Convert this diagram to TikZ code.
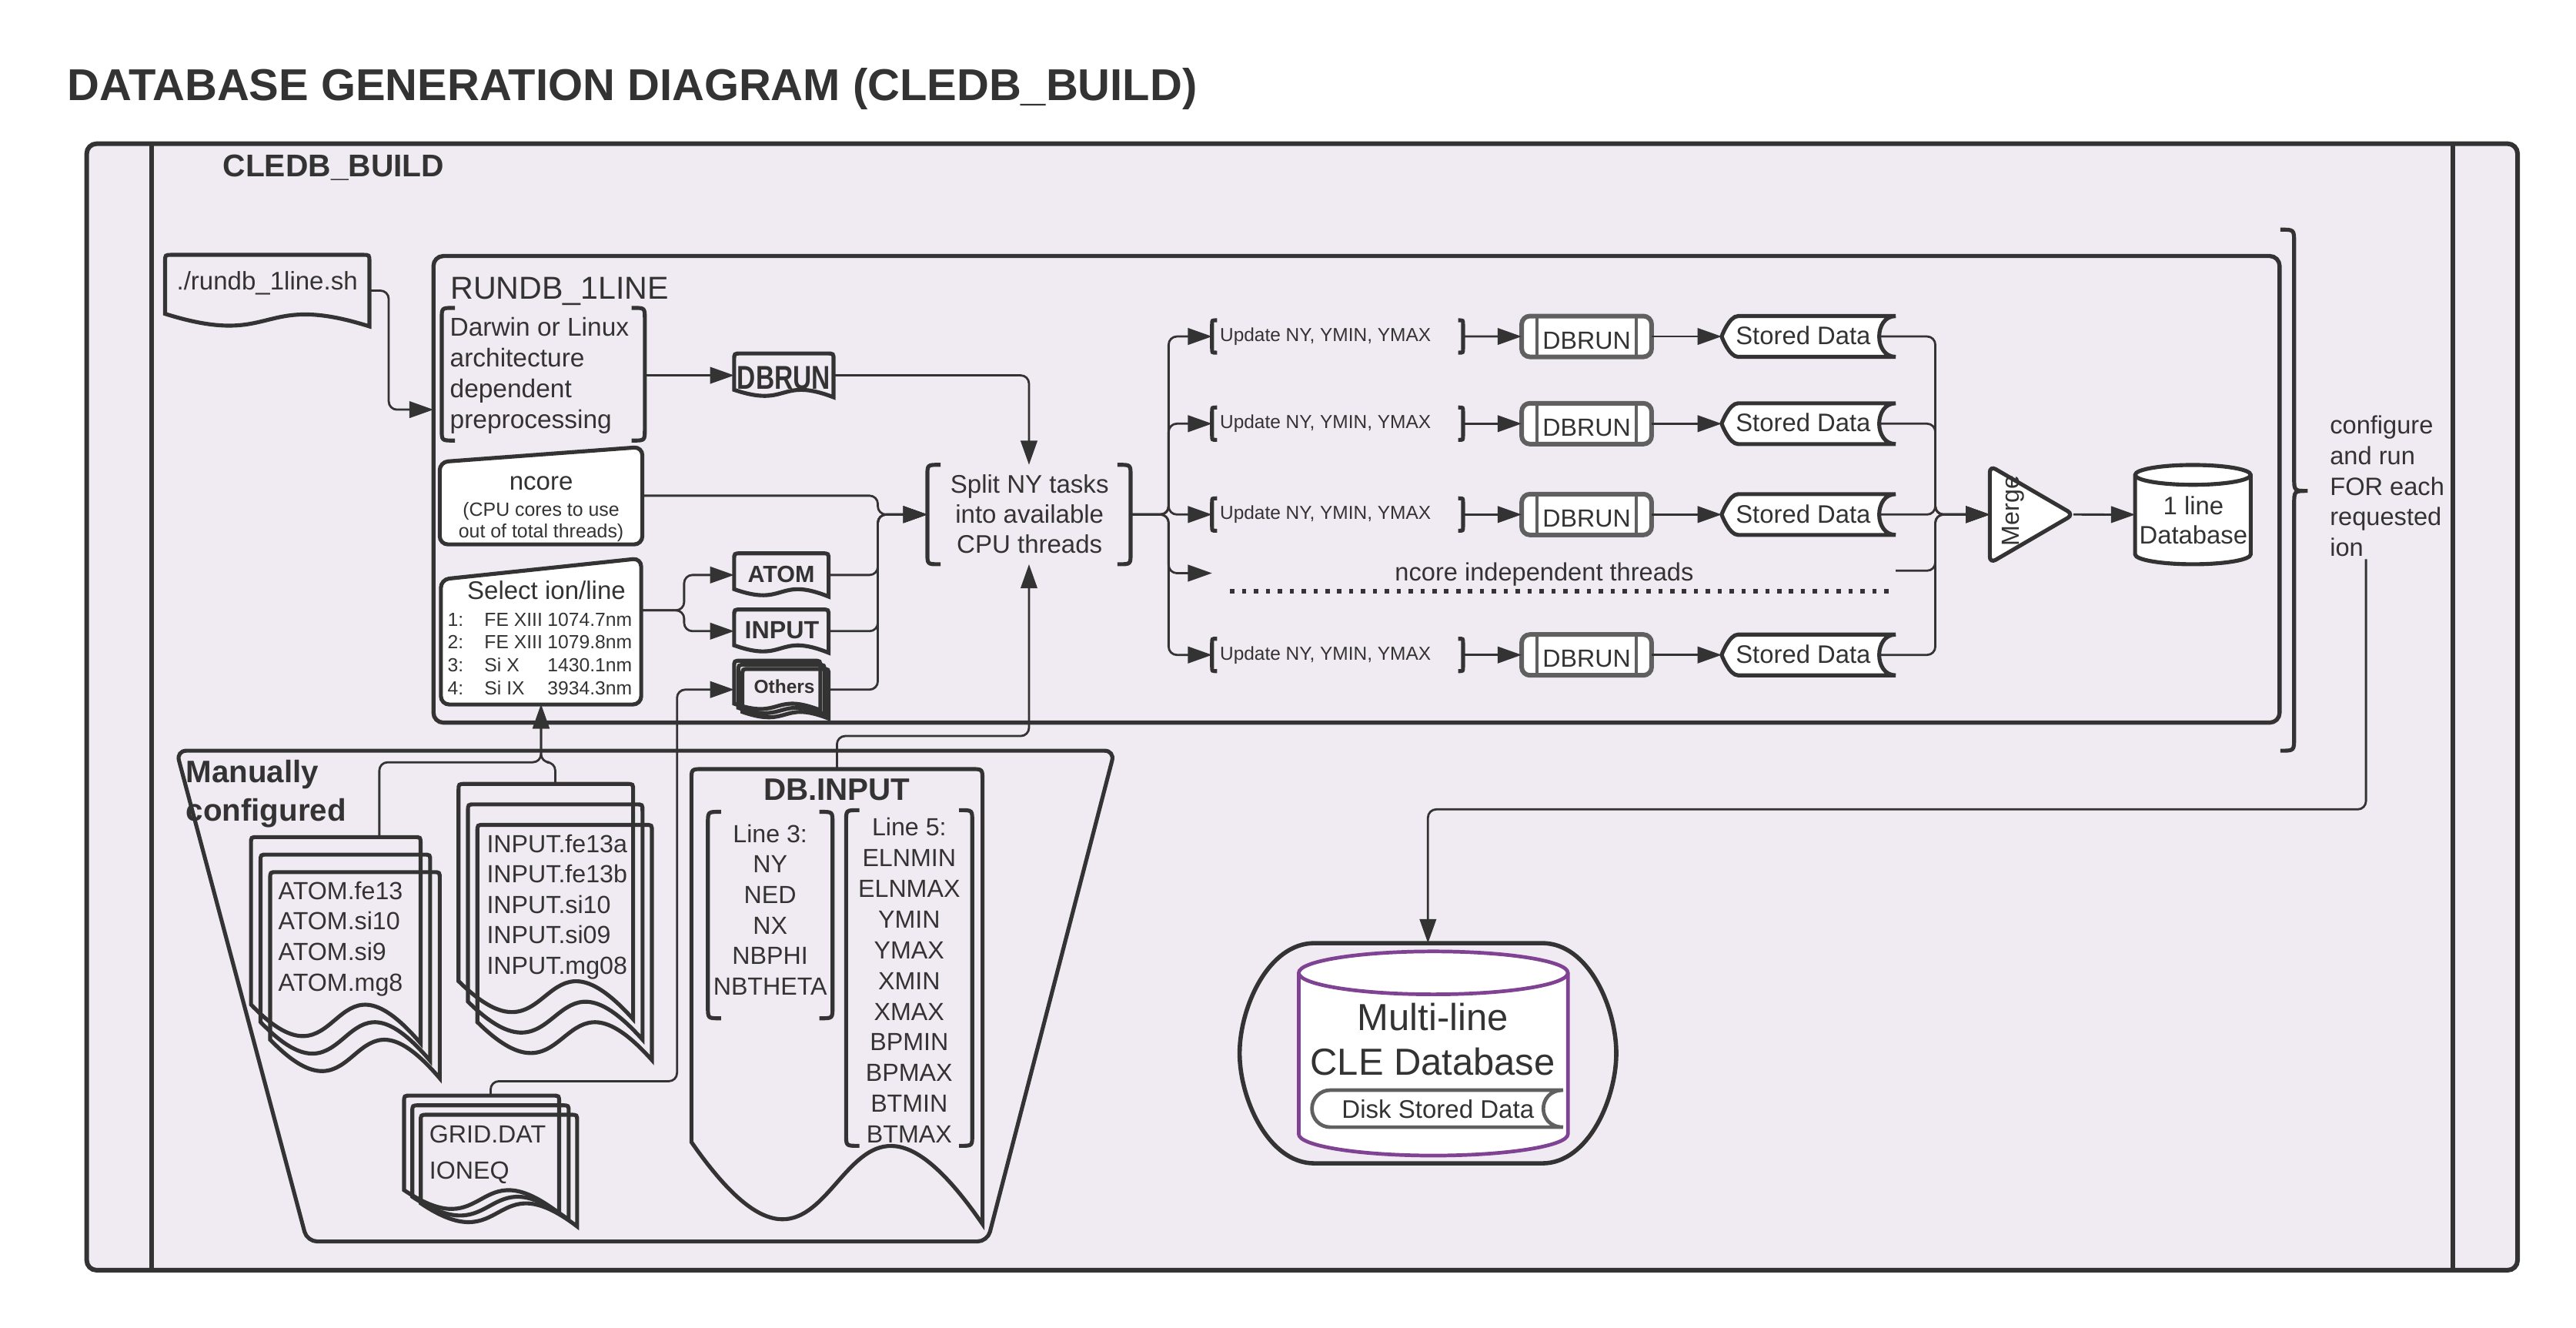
\documentclass[tikz,border=0pt]{standalone}
\usepackage{fontspec}
\setmainfont{Liberation Sans}
\usepackage{graphicx}
\usetikzlibrary{arrows.meta,calc,fit}
\definecolor{bg}{RGB}{240,235,242}
\definecolor{lc}{RGB}{51,51,51}
\definecolor{gr}{RGB}{96,96,96}
\definecolor{pu}{RGB}{128,66,146}
\newcommand\fs[2]{\fontsize{#1}{#2}\selectfont}
\newcommand\mylist[2]{\begin{tabular}[t]{@{}#1@{}}#2\end{tabular}}
\newcommand\selcol[2]{\makebox[11.15pt][l]{#1}\makebox[19.1pt][l]{#2}}
\def\docrad{4}
% document shape: [opts] x0 y0 x1 yb L c2
\newcommand\docR[7][]{%
 \draw[shp,#1] (#2,{#5-#6}) -- (#2,{#3+\docrad}) .. controls (#2,#3) .. ({#2+\docrad},#3) -- ({#4-\docrad},#3) .. controls (#4,#3) .. (#4,{#3+\docrad}) -- (#4,#5) .. controls ({#2+0.45*(#4-#2)},{#5-2.82*#6}) and ({#2+0.55*(#4-#2)},{#5+#7*#6}) .. (#2,{#5-#6}) -- cycle;}
% bracket box: [opts] x0 y0 x1 y1 hook r
\newcommand\brkR[7][]{%
 \draw[shp,#1] ({#2+#6},#3) -- ({#2+#7},#3) .. controls (#2,#3) .. (#2,{#3+#7}) -- (#2,{#5-#7}) .. controls (#2,#5) .. ({#2+#7},#5) -- ({#2+#6},#5);
 \draw[shp,#1] ({#4-#6},#3) -- ({#4-#7},#3) .. controls (#4,#3) .. (#4,{#3+#7}) -- (#4,{#5-#7}) .. controls (#4,#5) .. ({#4-#7},#5) -- ({#4-#6},#5);}
% stored data: [opts] x0 y0 x1 y1 rx d
\newcommand\sdR[7][]{%
 \draw[#1] (#4,#3) -- ({#2+#6},#3) .. controls ({#2+0.448*#6},#3) and (#2,{(#3+#5)/2-0.276*(#5-#3)}) .. (#2,{(#3+#5)/2}) .. controls (#2,{(#3+#5)/2+0.276*(#5-#3)}) and ({#2+0.448*#6},#5) .. ({#2+#6},#5) -- (#4,#5) .. controls ({#4-1.33*#7},#5) and ({#4-1.33*#7},#3) .. (#4,#3) -- cycle;}
% cylinder: [opts] x0 y0 x1 y1 ry
\newcommand\cylR[6][]{%
 \pgfmathsetmacro\cxm{(#2+#4)/2}\pgfmathsetmacro\crx{(#4-#2)/2}%
 \pgfmathsetmacro\cka{0.552*\crx}\pgfmathsetmacro\ckb{0.552*#6}%
 \draw[#1] (#2,{#3+#6}) -- (#2,{#5-#6}) .. controls (#2,{#5-#6+\ckb}) and ({\cxm-\cka},#5) .. (\cxm,#5) .. controls ({\cxm+\cka},#5) and (#4,{#5-#6+\ckb}) .. (#4,{#5-#6}) -- (#4,{#3+#6}) .. controls (#4,{#3+#6-\ckb}) and ({\cxm+\cka},#3) .. (\cxm,#3) .. controls ({\cxm-\cka},#3) and (#2,{#3+#6-\ckb}) .. (#2,{#3+#6}) -- cycle;
 \draw[#1,fill=none] (#2,{#3+#6}) .. controls (#2,{#3+#6+\ckb}) and ({\cxm-\cka},{#3+2*#6}) .. (\cxm,{#3+2*#6}) .. controls ({\cxm+\cka},{#3+2*#6}) and (#4,{#3+#6+\ckb}) .. (#4,{#3+#6});}
\begin{document}
\begin{tikzpicture}[x=0.5pt,y=-0.5pt,
  shp/.style={draw=lc,line width=1.2pt},
  conn/.style={draw=lc,line width=0.65pt,rounded corners=2.5pt},
  arr/.style={conn,-{Triangle[length=7.3pt,width=5pt]}},
  fitn/.style={inner sep=0pt,outer sep=0pt},
  txt/.style={inner sep=0pt,outer sep=0pt,text=lc},
  grb/.style={draw=gr,line width=1.4pt},
]
\fill[white] (0,0) rectangle (1560,804);
\useasboundingbox (0,0) rectangle (1560,804);

% title
\node[txt,anchor=base west,font=\bfseries\fs{13.5}{16}] (title) at (41,60.6) {DATABASE GENERATION DIAGRAM (CLEDB\_BUILD)};

% pool
\node[fitn,fit={(52.5,87) (1524.6,769)}] (pool) {};
\draw[draw=lc,line width=1.4pt,fill=bg,rounded corners=3pt] (pool.north west) rectangle (pool.south east);
\draw[draw=lc,line width=1.4pt] (92,87) -- (92,769);
\draw[draw=lc,line width=1.4pt] (1485.5,87) -- (1485.5,769);
\node[txt,anchor=base west,font=\bfseries\fs{9.5}{11}] (laneT) at (135,107) {CLEDB\_BUILD};

% RUNDB_1LINE box
\node[fitn,fit={(262.5,155) (1380.5,437.5)}] (rundb) {};
\draw[shp,line width=1.25pt,rounded corners=3pt] (rundb.north west) rectangle (rundb.south east);
\node[txt,anchor=base west,font=\fs{9.6}{11}] (rundbT) at (272.8,181) {RUNDB\_1LINE};

% script document
\node[fitn,fit={(100,154.3) (223.7,197.6)}] (sh) {};
\docR{100}{154.3}{223.7}{197.6}{7.6}{1.8}
\node[txt,anchor=base west,font=\fs{7.7}{9}] (shT) at (107,175.7) {./rundb\_1line.sh};
\coordinate (shin) at (262.5,248);

% Darwin preprocessing
\node[fitn,fit={(267.5,186.4) (390.5,266.7)}] (darwin) {};
\brkR{267.5}{186.4}{390.5}{266.7}{8}{7}
\node[txt,anchor=base west,font=\fs{7.8}{9.35}] (darwinT) at (272.5,203.4) {\mylist{l}{Darwin or Linux\\architecture\\dependent\\preprocessing}};

% DBRUN document
\node[fitn,fit={(444.6,214) (504.8,240.5)}] (dbr) {};
\docR{444.6}{214}{504.8}{240.5}{4.5}{1.5}
\node[txt,font=\bfseries\fs{10}{12}] (dbrT) at (474.6,228.6) {\scalebox{0.78}[1]{DBRUN}};

% ncore
\node[fitn,fit={(266.3,270.6) (389,329.6)}] (ncore) {};
\draw[shp,fill=white,rounded corners=2.5pt] (266.3,279.7) -- (389,270.6) -- (389,329.6) -- (266.3,329.6) -- cycle;
\node[txt,anchor=base,font=\fs{7.7}{9}] (ncoreT) at (327.7,296.7) {ncore};
\node[txt,anchor=base,font=\fs{5.8}{6.55}] (ncoreS) at (327.7,312.3) {\mylist{c}{(CPU cores to use\\out of total threads)}};

% select ion/line
\node[fitn,fit={(267,338) (388.3,426.5)}] (sel) {};
\draw[shp,fill=white,rounded corners=2.5pt] (267,350.8) -- (388.3,338) -- (388.3,426.5) -- (267,426.5) -- cycle;
\node[txt,anchor=base,font=\fs{7.7}{9}] (selT) at (330.9,363) {Select ion/line};
\node[txt,anchor=base west,font=\fs{5.75}{6.95}] (selL) at (271.1,379) {\mylist{l}{\selcol{1:}{FE XIII}1074.7nm\\\selcol{2:}{FE XIII}1079.8nm\\\selcol{3:}{Si X}1430.1nm\\\selcol{4:}{Si IX}3934.3nm}};

% ATOM / INPUT / Others
\node[fitn,fit={(444.6,335) (501.8,361.2)}] (atom) {};
\docR{444.6}{335}{501.8}{361.2}{4.5}{1.5}
\node[txt,font=\bfseries\fs{7.1}{8}] (atomT) at (473.1,347.5) {ATOM};
\node[fitn,fit={(444.6,369) (501.8,395.2)}] (inp) {};
\docR{444.6}{369}{501.8}{395.2}{4.5}{1.5}
\node[txt,font=\bfseries\fs{7.5}{8}] (inpT) at (473.5,381.4) {INPUT};
\node[fitn,fit={(444.6,400) (501.8,435)}] (oth) {};
\docR{444.6}{400}{496.8}{430}{4}{1.5}
\docR{447.1}{402.5}{499.3}{432.5}{4}{1.5}
\docR{449.6}{405}{501.8}{435}{4}{1.5}
\node[txt,font=\bfseries\fs{5.7}{7}] (othT) at (475,415.5) {Others};

% split
\node[fitn,fit={(561.6,281.4) (684.7,341.6)}] (split) {};
\brkR{561.6}{281.4}{684.7}{341.6}{8}{7}
\node[txt,anchor=base,font=\fs{7.7}{9.2}] (splitT) at (623.5,298.3) {\mylist{c}{Split NY tasks\\into available\\CPU threads}};
\coordinate (jA) at ($(split.west)+(-30,0)$);

% merge
\node[fitn,fit={(1205,282) (1255.7,341)}] (merge) {};
\draw[shp,fill=white,rounded corners=2pt] (merge.north west) -- (merge.east) -- (merge.south west) -- cycle;
\node[txt,rotate=90,font=\fs{7.5}{9}] (mergeT) at (1219,309.3) {Merge};
\coordinate (jM) at ($(merge.west)+(-33,0)$);

% 1 line database
\node[fitn,fit={(1293,281.5) (1363,341.6)}] (cyl) {};
\cylR[shp,fill=white]{1293}{281.5}{1363}{341.6}{6}
\node[txt,anchor=base,font=\fs{7.65}{8.9}] (cylT) at (1328.3,311.7) {\mylist{c}{1 line\\Database}};

% thread rows
\foreach \r [count=\i] in {203.7,256.5,311.5,396.5} {
  \node[fitn,fit={(734,{\r-9.8}) (886,{\r+9.8})}] (up\i) {};
  \brkR{734}{\r-9.8}{886}{\r+9.8}{3}{2.5}
  \node[txt,anchor=west,font=\fs{5.7}{7}] (upT\i) at (738.8,\r) {Update NY, YMIN, YMAX};
  \node[fitn,fit={(921.5,{\r-12.35}) (1000.2,{\r+12.35})}] (db\i) {};
  \draw[grb,fill=white,rounded corners=2.5pt] (db\i.north west) rectangle (db\i.south east);
  \draw[draw=gr,line width=1pt] ($(db\i.north west)+(9.3,0)$) -- ($(db\i.south west)+(9.3,0)$);
  \draw[draw=gr,line width=1pt] ($(db\i.north east)+(-9.3,0)$) -- ($(db\i.south east)+(-9.3,0)$);
  \node[txt,font=\fs{7.5}{9}] (dbT\i) at (960.9,{\r+2.5}) {DBRUN};
  \node[fitn,fit={(1042.6,{\r-12.35}) (1148,{\r+12.35})}] (sd\i) {};
  \sdR[shp,fill=white]{1042.6}{\r-12.35}{1148}{\r+12.35}{10}{10}
  \node[txt,font=\fs{7.65}{9}] (sdT\i) at (1092,{\r-0.5}) {Stored Data};
  \draw[arr] (split.east) -- ++(23,0) |- (up\i.west);
  \draw[arr] (up\i.east) -- (db\i.west);
  \draw[arr] (db\i.east) -- (sd\i.west);
  \draw[arr] ($(sd\i.east)+(-10,0)$) -| (jM) -- (merge.west);
}
\coordinate (nc) at (734,347);
\coordinate (dotA) at (745,358);
\coordinate (dotB) at (1148,358);
\coordinate (dotR) at (1148,345.5);
\draw[draw=lc,line width=1.45pt,dash pattern=on 1.3pt off 2.3pt] (dotA) -- (dotB);
\node[txt,anchor=base,font=\fs{7.6}{9}] (ncT) at (935.2,351.6) {ncore independent threads};

% brace and loop text
\draw[shp] (1381,139) .. controls (1389.3,139) .. (1389.3,147) -- (1389.3,289) .. controls (1389.3,297.2) .. (1397.5,297.2) .. controls (1389.3,297.2) .. (1389.3,305.4) -- (1389.3,446.5) .. controls (1389.3,454.5) .. (1381,454.5);
\node[txt,anchor=base west,font=\fs{7.6}{9.3}] (cfg) at (1411,262.5) {\mylist{l}{configure\\and run\\FOR each\\requested\\ion}};
\coordinate (ionp) at (1432.8,338.5);

% multi-line database
\node[fitn,fit={(750.7,571) (978.8,704.3)}] (mdb) {};
\draw[shp,line width=1.3pt] (796,571) -- (934,571) .. controls (962,571) and (978.8,610) .. (978.8,637.7) .. controls (978.8,665) and (962,704.3) .. (934,704.3) -- (796,704.3) .. controls (768,704.3) and (750.7,665) .. (750.7,637.7) .. controls (750.7,610) and (768,571) .. (796,571) -- cycle;
\cylR[draw=pu,line width=1.1pt,fill=white]{786.5}{576}{949.5}{699.6}{13}
\sdR[draw=gr,line width=1.1pt,fill=white]{794.5}{660}{946.6}{682.4}{11}{12}
\node[txt,anchor=base,font=\fs{11.4}{13.5}] (mdbT) at (867.7,624) {\mylist{c}{Multi-line\\CLE Database}};
\node[txt,font=\fs{7.7}{9}] (diskT) at (870.8,671.5) {Disk Stored Data};

% manually configured
\node[fitn,fit={(106.8,454.5) (675,751.6)}] (man) {};
\draw[shp,rounded corners=3pt] (106.8,454.5) -- (675,454.5) -- (598,751.6) -- (186,751.6) -- cycle;
\node[txt,anchor=base west,font=\bfseries\fs{9.4}{11.65}] (manT) at (112.6,473.7) {\mylist{l}{Manually\\configured}};

\node[fitn,fit={(152,506.8) (266.3,652.8)}] (astk) {};
\docR{152}{506.8}{254.7}{631.6}{23.4}{1.5}
\docR{157.8}{517.4}{260.5}{642.2}{23.4}{1.5}
\docR{163.6}{528}{266.3}{652.8}{23.4}{1.5}
\node[txt,anchor=base west,font=\fs{7.5}{9.3}] (astkT) at (168.6,544.4) {\mylist{l}{ATOM.fe13\\ATOM.si10\\ATOM.si9\\ATOM.mg8}};

\node[fitn,fit={(277.7,474.6) (394.8,641.8)}] (istk) {};
\docR{277.7}{474.6}{383.4}{617}{23}{1.5}
\docR{283.4}{487}{389.1}{629.4}{23}{1.5}
\docR{289.1}{499.4}{394.8}{641.8}{23}{1.5}
\node[txt,anchor=base west,font=\fs{7.5}{9.2}] (istkT) at (294.8,516.1) {\mylist{l}{INPUT.fe13a\\INPUT.fe13b\\INPUT.si10\\INPUT.si09\\INPUT.mg08}};

\node[fitn,fit={(244.7,663.3) (349.5,742.5)}] (grid) {};
\docR{244.7}{663.3}{338.6}{734.5}{14}{1.5}
\docR{249.7}{669.2}{344.4}{738.5}{14}{1.5}
\docR{254.8}{674.9}{349.5}{742.5}{14}{1.5}
\node[txt,anchor=base west,font=\fs{7.5}{10.9}] (gridT) at (260,692) {\mylist{l}{GRID.DAT\\IONEQ}};

% DB.INPUT
\def\docrad{7}
\node[fitn,fit={(418.7,465.6) (595,741.1)}] (dbin) {};
\docR{418.7}{465.6}{595}{741.1}{49.7}{1.8}
\def\docrad{4}
\node[txt,anchor=base,font=\bfseries\fs{9.4}{11}] (dbinT) at (506.8,484.7) {DB.INPUT};
\node[fitn,fit={(428.7,491.5) (504.2,616.5)}] (l3) {};
\brkR{428.7}{491.5}{504.2}{616.5}{8}{7}
\node[txt,anchor=base,font=\fs{7.5}{9.25}] (l3T) at (466.4,510) {\mylist{c}{Line 3:\\NY\\NED\\NX\\NBPHI\\NBTHETA}};
\node[fitn,fit={(512.4,490.5) (588.8,693.7)}] (l5) {};
\brkR{512.4}{490.5}{588.8}{693.7}{8}{7}
\node[txt,anchor=base,font=\fs{7.5}{9.3}] (l5T) at (550.6,506) {\mylist{c}{Line 5:\\ELNMIN\\ELNMAX\\YMIN\\YMAX\\XMIN\\XMAX\\BPMIN\\BPMAX\\BTMIN\\BTMAX}};

% connectors
\draw[arr] (sh.east) -- ++(11.7,0) |- (shin);
\draw[arr] (darwin.east |- dbr.west) -- (dbr.west);
\draw[arr] (dbr.east) -| (split.north);
\coordinate (selout) at ($(sel.north east)!0.356!(sel.south east)$);
\draw[arr] (selout) -- ++(26,0) |- (atom.west);
\draw[arr] (selout) -- ++(26,0) |- (inp.west);
\foreach \n in {ncore,atom,inp,oth} \draw[arr] (\n.east) -| (jA) -- (split.west);
\coordinate (gf) at (410,654.6);
\draw[arr] (grid.north) |- (gf) |- (oth.west);
\draw[arr] (dbin.north) -- ++(0,-20) -| (split.south);
\draw[arr] ($(astk.north west)!0.68!(astk.north east)$) |- ($(sel.south)+(0,35)$) -- (sel.south);
\draw[arr] (istk.north) |- ($(sel.south)+(0,35)$) -- (sel.south);
\draw[arr] (split.east) -- ++(23,0) |- (nc);
\draw[arr] (dotR) -| (jM) -- (merge.west);
\draw[arr] (merge.east) -- (cyl.west);
\draw[arr] (ionp) |- ($(mdb.north)+(0,-81)$) -- (mdb.north);
\end{tikzpicture}
\end{document}
